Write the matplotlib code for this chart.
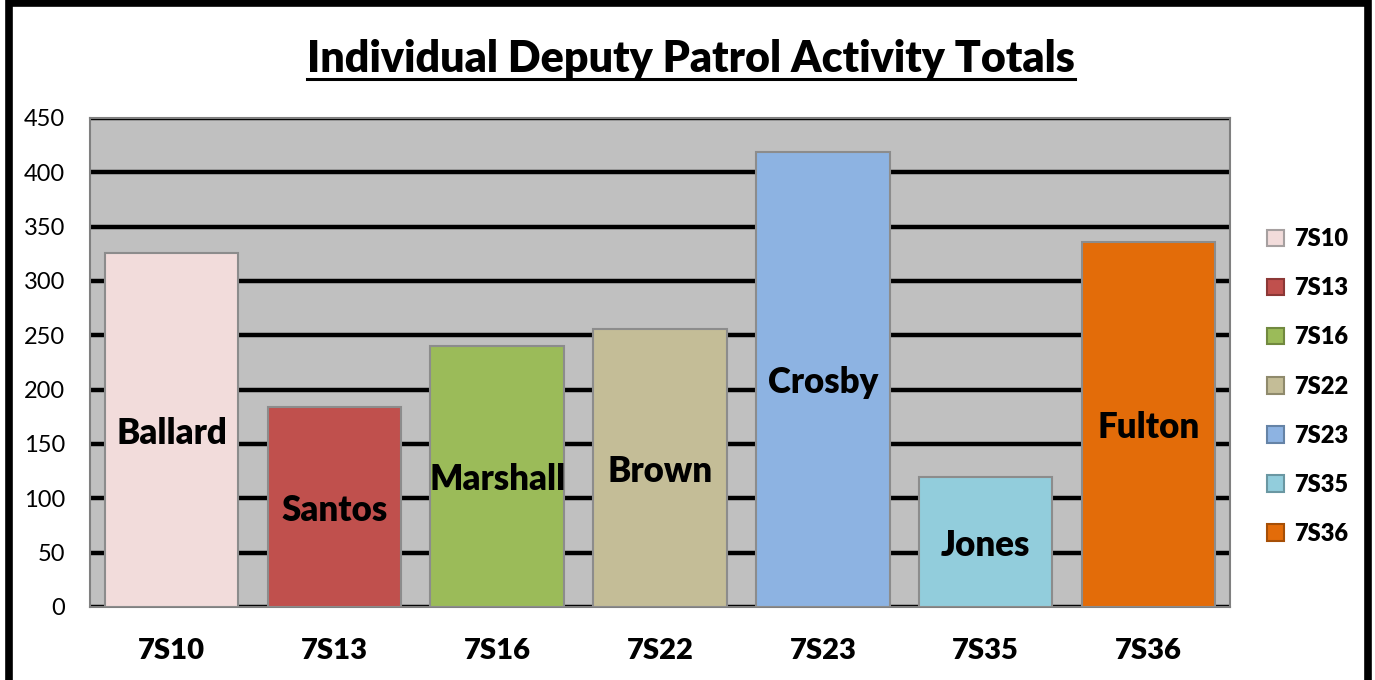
import matplotlib.pyplot as plt
from matplotlib.lines import Line2D
from matplotlib.patches import Rectangle, Patch

# data
units = ["7S10", "7S13", "7S16", "7S22", "7S23", "7S35", "7S36"]
deputies = ["Ballard", "Santos", "Marshall", "Brown", "Crosby", "Jones", "Fulton"]
totals = [326, 184, 240, 256, 419, 120, 336]
colors = ["#F2DCDB", "#C0504D", "#9BBB59", "#C4BD97", "#8DB3E2", "#92CDDC", "#E36C09"]
edges = ["#A6A0A0", "#8C3836", "#71893F", "#8F8A6C", "#6583A6", "#6A97A2", "#A64F06"]

plt.rcParams['font.family'] = ['Lato', 'DejaVu Sans']
W = "heavy"

fig = plt.figure(figsize=(13.75, 6.8), dpi=100)
ax = fig.add_axes([0.0655, 0.1074, 0.829, 0.7191])
ax.set_facecolor("#C0C0C0")

x = list(range(len(units)))
bars = ax.bar(x, totals, width=0.82, color=colors, edgecolor="#8C8C8C",
              linewidth=1.5, zorder=3)

# name of the deputy in the middle of each bar
for xi, val, name in zip(x, totals, deputies):
    ax.annotate(name, (xi, val / 2), xytext=(0, -10), textcoords="offset points",
                ha="center", va="baseline", fontsize=25, fontweight=W,
                color="black", zorder=4)

ax.set_xlim(-0.5, 6.5)
ax.set_ylim(0, 450)
ax.set_yticks(range(0, 451, 50))
ax.set_xticks(x)
ax.set_xticklabels(units, fontsize=21, fontweight=W)
ax.tick_params(axis="y", labelsize=17, length=0, pad=18)
ax.tick_params(axis="x", length=0, pad=22)

ax.yaxis.grid(True, color="black", linewidth=3.2, zorder=1)
ax.set_axisbelow(True)
for s in ax.spines.values():
    s.set_color("#808080")
    s.set_linewidth(1.5)

# legend
handles = [Patch(facecolor=c, edgecolor=e, linewidth=1.5, label=u)
           for c, e, u in zip(colors, edges, units)]
leg = fig.legend(handles=handles, loc="center left", bbox_to_anchor=(0.906, 0.4316),
                 frameon=False, prop={"size": 17, "weight": W},
                 handlelength=0.7, handleheight=0.7, handletextpad=0.45,
                 labelspacing=1.15)

# title with underline
title = fig.text(0.5025, 0.894, "Individual Deputy Patrol Activity Totals",
                 ha="center", va="baseline", fontsize=31, fontweight=W)
fig.canvas.draw()
bb = title.get_window_extent().transformed(fig.transFigure.inverted())
fig.add_artist(Line2D([bb.x0, bb.x1], [0.8838, 0.8838],
                      color="black", linewidth=2.2, transform=fig.transFigure))

# outer frame (bottom edge falls outside the picture)
fig.add_artist(Rectangle((0.0062, -0.05), 0.9884, 1.0455, fill=False,
                         edgecolor="black", linewidth=5.5,
                         transform=fig.transFigure))

fig.savefig("out.png", dpi=100)
